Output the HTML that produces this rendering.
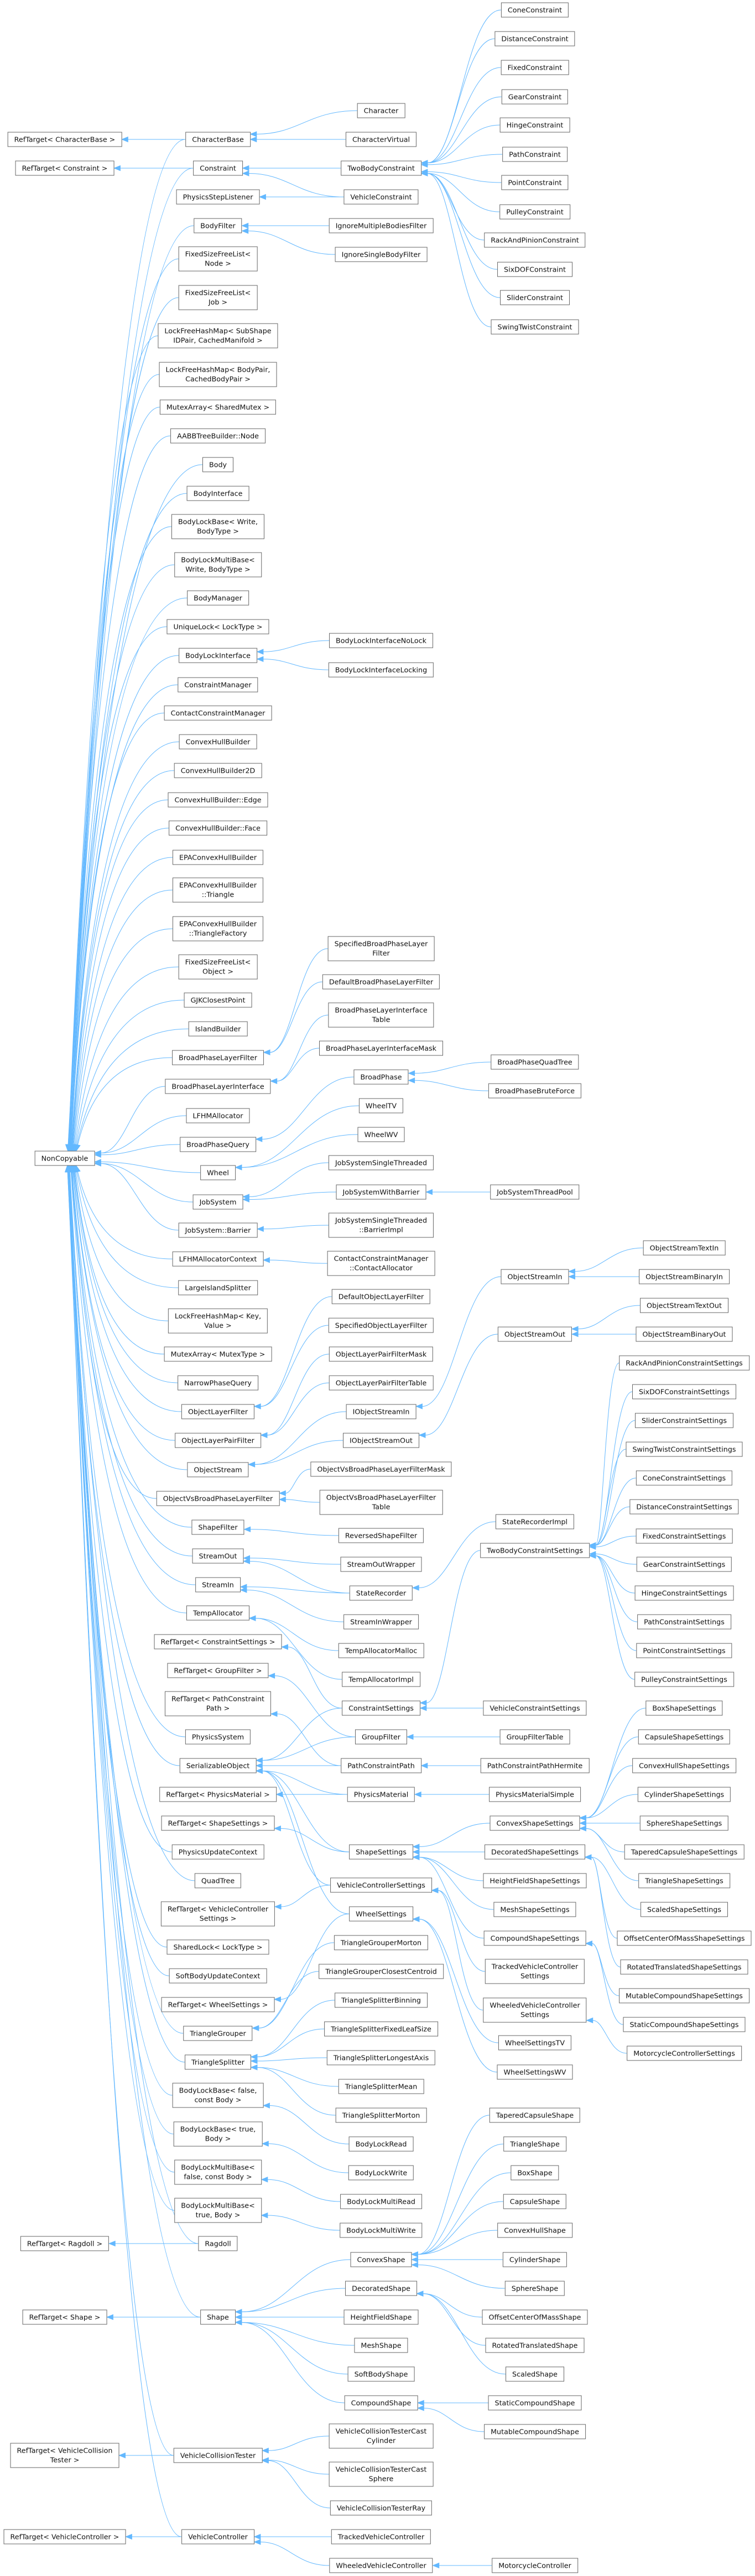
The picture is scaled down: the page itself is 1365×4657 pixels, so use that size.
<!DOCTYPE html>
<html><head><meta charset="utf-8">
<style>
html,body{margin:0;padding:0;background:#fff;}
body{width:1365px;height:4657px;position:relative;overflow:hidden;font-family:"DejaVu Sans","Liberation Sans",sans-serif;}
.n{position:absolute;transform:translate(-50%,-50%);background:#fff;border:1px solid #666;box-sizing:border-box;height:27px;padding:0 11px;font-size:12.7px;line-height:25px;white-space:pre;text-align:center;color:#111;z-index:2}
.n.t{height:45px;line-height:17px;padding-top:4px}
svg{position:absolute;left:0;top:0;z-index:1}
</style></head><body>
<svg id="sv" width="1365" height="4657"></svg>

<div class="n" id="rtcb" style="left:117px;top:252px">RefTarget&lt; CharacterBase &gt;</div>
<div class="n" id="rtc" style="left:117px;top:304px">RefTarget&lt; Constraint &gt;</div>
<div class="n" id="nc" style="left:117px;top:2094px">NonCopyable</div>
<div class="n" id="rtrd" style="left:117px;top:4056px">RefTarget&lt; Ragdoll &gt;</div>
<div class="n" id="rtsh" style="left:117px;top:4189px">RefTarget&lt; Shape &gt;</div>
<div class="n t" id="rtvct" style="left:117px;top:4439px">RefTarget&lt; VehicleCollision
Tester &gt;</div>
<div class="n" id="rtvc" style="left:117px;top:4586px">RefTarget&lt; VehicleController &gt;</div>

<div class="n" id="cb" style="left:394px;top:252px">CharacterBase</div>
<div class="n" id="con" style="left:394px;top:304px">Constraint</div>
<div class="n" id="psl" style="left:394px;top:356px">PhysicsStepListener</div>
<div class="n" id="bf" style="left:394px;top:408px">BodyFilter</div>
<div class="n t" id="fn" style="left:394px;top:468px">FixedSizeFreeList&lt;
Node &gt;</div>
<div class="n t" id="fj" style="left:394px;top:538px">FixedSizeFreeList&lt;
Job &gt;</div>
<div class="n t" id="lss" style="left:394px;top:607px">LockFreeHashMap&lt; SubShape
IDPair, CachedManifold &gt;</div>
<div class="n t" id="lbp" style="left:394px;top:677px">LockFreeHashMap&lt; BodyPair,
CachedBodyPair &gt;</div>
<div class="n" id="mas" style="left:394px;top:736px">MutexArray&lt; SharedMutex &gt;</div>
<div class="n" id="aabb" style="left:394px;top:788px">AABBTreeBuilder::Node</div>
<div class="n" id="body" style="left:394px;top:840px">Body</div>
<div class="n" id="bi" style="left:394px;top:892px">BodyInterface</div>
<div class="n t" id="blbw" style="left:394px;top:952px">BodyLockBase&lt; Write,
BodyType &gt;</div>
<div class="n t" id="blmbw" style="left:394px;top:1021px">BodyLockMultiBase&lt;
Write, BodyType &gt;</div>
<div class="n" id="bm" style="left:394px;top:1081px">BodyManager</div>
<div class="n" id="ul" style="left:394px;top:1133px">UniqueLock&lt; LockType &gt;</div>
<div class="n" id="bli" style="left:394px;top:1185px">BodyLockInterface</div>
<div class="n" id="cm" style="left:394px;top:1238px">ConstraintManager</div>
<div class="n" id="ccm" style="left:394px;top:1289px">ContactConstraintManager</div>
<div class="n" id="chb" style="left:394px;top:1341px">ConvexHullBuilder</div>
<div class="n" id="chb2" style="left:394px;top:1393px">ConvexHullBuilder2D</div>
<div class="n" id="chbe" style="left:394px;top:1446px">ConvexHullBuilder::Edge</div>
<div class="n" id="chbf" style="left:394px;top:1497px">ConvexHullBuilder::Face</div>
<div class="n" id="epa" style="left:394px;top:1550px">EPAConvexHullBuilder</div>
<div class="n t" id="epat" style="left:394px;top:1609px">EPAConvexHullBuilder
::Triangle</div>
<div class="n t" id="epatf" style="left:394px;top:1679px">EPAConvexHullBuilder
::TriangleFactory</div>
<div class="n t" id="fo" style="left:394px;top:1748px">FixedSizeFreeList&lt;
Object &gt;</div>
<div class="n" id="gjk" style="left:394px;top:1808px">GJKClosestPoint</div>
<div class="n" id="ib" style="left:394px;top:1860px">IslandBuilder</div>
<div class="n" id="bplf" style="left:394px;top:1912px">BroadPhaseLayerFilter</div>
<div class="n" id="bpli" style="left:394px;top:1964px">BroadPhaseLayerInterface</div>
<div class="n" id="lfa" style="left:394px;top:2017px">LFHMAllocator</div>
<div class="n" id="bpq" style="left:394px;top:2069px">BroadPhaseQuery</div>
<div class="n" id="wh" style="left:394px;top:2120px">Wheel</div>
<div class="n" id="js" style="left:394px;top:2173px">JobSystem</div>
<div class="n" id="jsb" style="left:394px;top:2224px">JobSystem::Barrier</div>
<div class="n" id="lfac" style="left:394px;top:2276px">LFHMAllocatorContext</div>
<div class="n" id="lis" style="left:394px;top:2328px">LargeIslandSplitter</div>
<div class="n t" id="lkv" style="left:394px;top:2388px">LockFreeHashMap&lt; Key,
Value &gt;</div>
<div class="n" id="mam" style="left:394px;top:2448px">MutexArray&lt; MutexType &gt;</div>
<div class="n" id="npq" style="left:394px;top:2500px">NarrowPhaseQuery</div>
<div class="n" id="olf" style="left:394px;top:2552px">ObjectLayerFilter</div>
<div class="n" id="olpf" style="left:394px;top:2604px">ObjectLayerPairFilter</div>
<div class="n" id="os" style="left:394px;top:2657px">ObjectStream</div>
<div class="n" id="ovb" style="left:394px;top:2709px">ObjectVsBroadPhaseLayerFilter</div>
<div class="n" id="sf" style="left:394px;top:2761px">ShapeFilter</div>
<div class="n" id="so" style="left:394px;top:2813px">StreamOut</div>
<div class="n" id="si" style="left:394px;top:2865px">StreamIn</div>
<div class="n" id="ta" style="left:394px;top:2916px">TempAllocator</div>
<div class="n" id="rtcs" style="left:394px;top:2968px">RefTarget&lt; ConstraintSettings &gt;</div>
<div class="n" id="rtgf" style="left:394px;top:3020px">RefTarget&lt; GroupFilter &gt;</div>
<div class="n t" id="rtpcp" style="left:394px;top:3080px">RefTarget&lt; PathConstraint
Path &gt;</div>
<div class="n" id="ps" style="left:394px;top:3140px">PhysicsSystem</div>
<div class="n" id="ser" style="left:394px;top:3192px">SerializableObject</div>
<div class="n" id="rtpm" style="left:394px;top:3244px">RefTarget&lt; PhysicsMaterial &gt;</div>
<div class="n" id="rtss" style="left:394px;top:3296px">RefTarget&lt; ShapeSettings &gt;</div>
<div class="n" id="puc" style="left:394px;top:3348px">PhysicsUpdateContext</div>
<div class="n" id="qt" style="left:394px;top:3400px">QuadTree</div>
<div class="n t" id="rtvcs" style="left:394px;top:3460px">RefTarget&lt; VehicleController
Settings &gt;</div>
<div class="n" id="sl" style="left:394px;top:3520px">SharedLock&lt; LockType &gt;</div>
<div class="n" id="sbuc" style="left:394px;top:3572px">SoftBodyUpdateContext</div>
<div class="n" id="rtws" style="left:394px;top:3624px">RefTarget&lt; WheelSettings &gt;</div>
<div class="n" id="tg" style="left:394px;top:3676px">TriangleGrouper</div>
<div class="n" id="ts" style="left:394px;top:3728px">TriangleSplitter</div>
<div class="n t" id="blbf" style="left:394px;top:3788px">BodyLockBase&lt; false,
const Body &gt;</div>
<div class="n t" id="blbt" style="left:394px;top:3858px">BodyLockBase&lt; true,
Body &gt;</div>
<div class="n t" id="blmf" style="left:394px;top:3927px">BodyLockMultiBase&lt;
false, const Body &gt;</div>
<div class="n t" id="blmt" style="left:394px;top:3996px">BodyLockMultiBase&lt;
true, Body &gt;</div>
<div class="n" id="rd" style="left:394px;top:4056px">Ragdoll</div>
<div class="n" id="sh" style="left:394px;top:4189px">Shape</div>
<div class="n" id="vct" style="left:394px;top:4439px">VehicleCollisionTester</div>
<div class="n" id="vc" style="left:394px;top:4586px">VehicleController</div>

<div class="n" id="ch" style="left:689px;top:200px">Character</div>
<div class="n" id="cv" style="left:689px;top:252px">CharacterVirtual</div>
<div class="n" id="tbc" style="left:689px;top:304px">TwoBodyConstraint</div>
<div class="n" id="vcn" style="left:689px;top:356px">VehicleConstraint</div>
<div class="n" id="imb" style="left:689px;top:408px">IgnoreMultipleBodiesFilter</div>
<div class="n" id="isb" style="left:689px;top:460px">IgnoreSingleBodyFilter</div>
<div class="n" id="blinl" style="left:689px;top:1158px">BodyLockInterfaceNoLock</div>
<div class="n" id="blil" style="left:689px;top:1211px">BodyLockInterfaceLocking</div>
<div class="n t" id="sbplf" style="left:689px;top:1715px">SpecifiedBroadPhaseLayer
Filter</div>
<div class="n" id="dbplf" style="left:689px;top:1775px">DefaultBroadPhaseLayerFilter</div>
<div class="n t" id="bplit" style="left:689px;top:1835px">BroadPhaseLayerInterface
Table</div>
<div class="n" id="bplim" style="left:689px;top:1895px">BroadPhaseLayerInterfaceMask</div>
<div class="n" id="bp" style="left:689px;top:1947px">BroadPhase</div>
<div class="n" id="wtv" style="left:689px;top:1999px">WheelTV</div>
<div class="n" id="wwv" style="left:689px;top:2051px">WheelWV</div>
<div class="n" id="jsst" style="left:689px;top:2102px">JobSystemSingleThreaded</div>
<div class="n" id="jswb" style="left:689px;top:2155px">JobSystemWithBarrier</div>
<div class="n t" id="jsbi" style="left:689px;top:2215px">JobSystemSingleThreaded
::BarrierImpl</div>
<div class="n t" id="cca" style="left:689px;top:2284px">ContactConstraintManager
::ContactAllocator</div>
<div class="n" id="dolf" style="left:689px;top:2344px">DefaultObjectLayerFilter</div>
<div class="n" id="solf" style="left:689px;top:2396px">SpecifiedObjectLayerFilter</div>
<div class="n" id="olpfm" style="left:689px;top:2448px">ObjectLayerPairFilterMask</div>
<div class="n" id="olpft" style="left:689px;top:2500px">ObjectLayerPairFilterTable</div>
<div class="n" id="iosi" style="left:689px;top:2552px">IObjectStreamIn</div>
<div class="n" id="ioso" style="left:689px;top:2604px">IObjectStreamOut</div>
<div class="n" id="ovbm" style="left:689px;top:2656px">ObjectVsBroadPhaseLayerFilterMask</div>
<div class="n t" id="ovbt" style="left:689px;top:2716px">ObjectVsBroadPhaseLayerFilter
Table</div>
<div class="n" id="rsf" style="left:689px;top:2776px">ReversedShapeFilter</div>
<div class="n" id="sow" style="left:689px;top:2828px">StreamOutWrapper</div>
<div class="n" id="sr" style="left:689px;top:2880px">StateRecorder</div>
<div class="n" id="siw" style="left:689px;top:2932px">StreamInWrapper</div>
<div class="n" id="tam" style="left:689px;top:2984px">TempAllocatorMalloc</div>
<div class="n" id="tai" style="left:689px;top:3036px">TempAllocatorImpl</div>
<div class="n" id="cs" style="left:689px;top:3088px">ConstraintSettings</div>
<div class="n" id="gf" style="left:689px;top:3140px">GroupFilter</div>
<div class="n" id="pcp" style="left:689px;top:3192px">PathConstraintPath</div>
<div class="n" id="pm" style="left:689px;top:3244px">PhysicsMaterial</div>
<div class="n" id="ss" style="left:689px;top:3348px">ShapeSettings</div>
<div class="n" id="vcs" style="left:689px;top:3408px">VehicleControllerSettings</div>
<div class="n" id="ws" style="left:689px;top:3460px">WheelSettings</div>
<div class="n" id="tgm" style="left:689px;top:3512px">TriangleGrouperMorton</div>
<div class="n" id="tgc" style="left:689px;top:3564px">TriangleGrouperClosestCentroid</div>
<div class="n" id="tsb" style="left:689px;top:3616px">TriangleSplitterBinning</div>
<div class="n" id="tsf" style="left:689px;top:3668px">TriangleSplitterFixedLeafSize</div>
<div class="n" id="tsl" style="left:689px;top:3720px">TriangleSplitterLongestAxis</div>
<div class="n" id="tsm" style="left:689px;top:3772px">TriangleSplitterMean</div>
<div class="n" id="tsmo" style="left:689px;top:3824px">TriangleSplitterMorton</div>
<div class="n" id="blr" style="left:689px;top:3876px">BodyLockRead</div>
<div class="n" id="blw" style="left:689px;top:3928px">BodyLockWrite</div>
<div class="n" id="blmr" style="left:689px;top:3980px">BodyLockMultiRead</div>
<div class="n" id="blmw" style="left:689px;top:4032px">BodyLockMultiWrite</div>
<div class="n" id="cvs" style="left:689px;top:4085px">ConvexShape</div>
<div class="n" id="ds" style="left:689px;top:4137px">DecoratedShape</div>
<div class="n" id="hfs" style="left:689px;top:4189px">HeightFieldShape</div>
<div class="n" id="ms" style="left:689px;top:4240px">MeshShape</div>
<div class="n" id="sbs" style="left:689px;top:4292px">SoftBodyShape</div>
<div class="n" id="cps" style="left:689px;top:4344px">CompoundShape</div>
<div class="n t" id="vctc" style="left:689px;top:4404px">VehicleCollisionTesterCast
Cylinder</div>
<div class="n t" id="vcts" style="left:689px;top:4473px">VehicleCollisionTesterCast
Sphere</div>
<div class="n" id="vctr" style="left:689px;top:4534px">VehicleCollisionTesterRay</div>
<div class="n" id="tvc" style="left:689px;top:4586px">TrackedVehicleController</div>
<div class="n" id="wvc" style="left:689px;top:4638px">WheeledVehicleController</div>

<div class="n" id="k0" style="left:967px;top:18px">ConeConstraint</div>
<div class="n" id="k1" style="left:967px;top:70px">DistanceConstraint</div>
<div class="n" id="k2" style="left:967px;top:122px">FixedConstraint</div>
<div class="n" id="k3" style="left:967px;top:175px">GearConstraint</div>
<div class="n" id="k4" style="left:967px;top:226px">HingeConstraint</div>
<div class="n" id="k5" style="left:967px;top:279px">PathConstraint</div>
<div class="n" id="k6" style="left:967px;top:330px">PointConstraint</div>
<div class="n" id="k7" style="left:967px;top:383px">PulleyConstraint</div>
<div class="n" id="k8" style="left:967px;top:434px">RackAndPinionConstraint</div>
<div class="n" id="k9" style="left:967px;top:487px">SixDOFConstraint</div>
<div class="n" id="k10" style="left:967px;top:538px">SliderConstraint</div>
<div class="n" id="k11" style="left:967px;top:591px">SwingTwistConstraint</div>
<div class="n" id="bpqt" style="left:967px;top:1920px">BroadPhaseQuadTree</div>
<div class="n" id="bpbf" style="left:967px;top:1972px">BroadPhaseBruteForce</div>
<div class="n" id="jstp" style="left:967px;top:2155px">JobSystemThreadPool</div>
<div class="n" id="osi" style="left:967px;top:2308px">ObjectStreamIn</div>
<div class="n" id="oso" style="left:967px;top:2412px">ObjectStreamOut</div>
<div class="n" id="sri" style="left:967px;top:2751px">StateRecorderImpl</div>
<div class="n" id="tbcs" style="left:967px;top:2803px">TwoBodyConstraintSettings</div>
<div class="n" id="vcns" style="left:967px;top:3088px">VehicleConstraintSettings</div>
<div class="n" id="gft" style="left:967px;top:3140px">GroupFilterTable</div>
<div class="n" id="pcph" style="left:967px;top:3192px">PathConstraintPathHermite</div>
<div class="n" id="pms" style="left:967px;top:3244px">PhysicsMaterialSimple</div>
<div class="n" id="css" style="left:967px;top:3296px">ConvexShapeSettings</div>
<div class="n" id="dss" style="left:967px;top:3348px">DecoratedShapeSettings</div>
<div class="n" id="hfss" style="left:967px;top:3400px">HeightFieldShapeSettings</div>
<div class="n" id="mss" style="left:967px;top:3452px">MeshShapeSettings</div>
<div class="n" id="cpss" style="left:967px;top:3504px">CompoundShapeSettings</div>
<div class="n t" id="tvcs" style="left:967px;top:3564px">TrackedVehicleController
Settings</div>
<div class="n t" id="wvcs" style="left:967px;top:3634px">WheeledVehicleController
Settings</div>
<div class="n" id="wstv" style="left:967px;top:3693px">WheelSettingsTV</div>
<div class="n" id="wswv" style="left:967px;top:3746px">WheelSettingsWV</div>
<div class="n" id="tcs" style="left:967px;top:3824px">TaperedCapsuleShape</div>
<div class="n" id="trs" style="left:967px;top:3876px">TriangleShape</div>
<div class="n" id="bxs" style="left:967px;top:3928px">BoxShape</div>
<div class="n" id="cas" style="left:967px;top:3980px">CapsuleShape</div>
<div class="n" id="chs" style="left:967px;top:4032px">ConvexHullShape</div>
<div class="n" id="cys" style="left:967px;top:4085px">CylinderShape</div>
<div class="n" id="sps" style="left:967px;top:4137px">SphereShape</div>
<div class="n" id="ocm" style="left:967px;top:4189px">OffsetCenterOfMassShape</div>
<div class="n" id="rts" style="left:967px;top:4240px">RotatedTranslatedShape</div>
<div class="n" id="scs" style="left:967px;top:4292px">ScaledShape</div>
<div class="n" id="scps" style="left:967px;top:4344px">StaticCompoundShape</div>
<div class="n" id="mcps" style="left:967px;top:4396px">MutableCompoundShape</div>
<div class="n" id="mc" style="left:967px;top:4638px">MotorcycleController</div>

<div class="n" id="ostin" style="left:1237px;top:2256px">ObjectStreamTextIn</div>
<div class="n" id="osbin" style="left:1237px;top:2308px">ObjectStreamBinaryIn</div>
<div class="n" id="osto" style="left:1237px;top:2360px">ObjectStreamTextOut</div>
<div class="n" id="osbo" style="left:1237px;top:2412px">ObjectStreamBinaryOut</div>
<div class="n" id="q0" style="left:1237px;top:2464px">RackAndPinionConstraintSettings</div>
<div class="n" id="q1" style="left:1237px;top:2516px">SixDOFConstraintSettings</div>
<div class="n" id="q2" style="left:1237px;top:2568px">SliderConstraintSettings</div>
<div class="n" id="q3" style="left:1237px;top:2620px">SwingTwistConstraintSettings</div>
<div class="n" id="q4" style="left:1237px;top:2672px">ConeConstraintSettings</div>
<div class="n" id="q5" style="left:1237px;top:2724px">DistanceConstraintSettings</div>
<div class="n" id="q6" style="left:1237px;top:2777px">FixedConstraintSettings</div>
<div class="n" id="q7" style="left:1237px;top:2828px">GearConstraintSettings</div>
<div class="n" id="q8" style="left:1237px;top:2880px">HingeConstraintSettings</div>
<div class="n" id="q9" style="left:1237px;top:2932px">PathConstraintSettings</div>
<div class="n" id="q10" style="left:1237px;top:2984px">PointConstraintSettings</div>
<div class="n" id="q11" style="left:1237px;top:3036px">PulleyConstraintSettings</div>
<div class="n" id="z0" style="left:1237px;top:3088px">BoxShapeSettings</div>
<div class="n" id="z1" style="left:1237px;top:3140px">CapsuleShapeSettings</div>
<div class="n" id="z2" style="left:1237px;top:3192px">ConvexHullShapeSettings</div>
<div class="n" id="z3" style="left:1237px;top:3244px">CylinderShapeSettings</div>
<div class="n" id="z4" style="left:1237px;top:3296px">SphereShapeSettings</div>
<div class="n" id="z5" style="left:1237px;top:3348px">TaperedCapsuleShapeSettings</div>
<div class="n" id="z6" style="left:1237px;top:3400px">TriangleShapeSettings</div>
<div class="n" id="z7" style="left:1237px;top:3452px">ScaledShapeSettings</div>
<div class="n" id="z8" style="left:1237px;top:3504px">OffsetCenterOfMassShapeSettings</div>
<div class="n" id="z9" style="left:1237px;top:3556px">RotatedTranslatedShapeSettings</div>
<div class="n" id="z10" style="left:1237px;top:3608px">MutableCompoundShapeSettings</div>
<div class="n" id="z11" style="left:1237px;top:3660px">StaticCompoundShapeSettings</div>
<div class="n" id="mcs" style="left:1237px;top:3712px">MotorcycleControllerSettings</div>

<script>
(function(){
var E=[];
function e(p,cs){cs.split(' ').forEach(function(c){E.push([c,p]);});}
e('nc','cb con bf fn fj lss lbp mas aabb body bi blbw blmbw bm ul bli cm ccm chb chb2 chbe chbf epa epat epatf fo gjk ib bplf bpli lfa bpq wh js jsb lfac lis lkv mam npq olf olpf os ovb sf so si ta ps ser puc qt sl sbuc tg ts blbf blbt blmf blmt rd sh vct vc');
e('rtcb','cb');e('rtc','con');e('rtrd','rd');e('rtsh','sh');e('rtvct','vct');e('rtvc','vc');
e('cb','ch cv');e('con','tbc vcn');e('psl','vcn');
e('tbc','k0 k1 k2 k3 k4 k5 k6 k7 k8 k9 k10 k11');
e('bf','imb isb');e('bli','blinl blil');e('bplf','sbplf dbplf');e('bpli','bplit bplim');
e('bpq','bp');e('wh','wtv wwv');e('js','jsst jswb');e('jsb','jsbi');e('lfac','cca');
e('olf','dolf solf');e('olpf','olpfm olpft');e('os','iosi ioso');e('ovb','ovbm ovbt');
e('sf','rsf');e('so','sow sr');e('si','sr siw');e('ta','tam tai');
e('rtcs','cs');e('rtgf','gf');e('rtpcp','pcp');e('rtpm','pm');e('rtss','ss');e('rtvcs','vcs');e('rtws','ws');
e('ser','cs gf pcp pm ss vcs ws');
e('tg','tgm tgc');e('ts','tsb tsf tsl tsm tsmo');
e('blbf','blr');e('blbt','blw');e('blmf','blmr');e('blmt','blmw');
e('sh','cvs ds hfs ms sbs cps');e('vct','vctc vcts vctr');e('vc','tvc wvc');
e('bp','bpqt bpbf');e('jswb','jstp');e('iosi','osi');e('ioso','oso');e('sr','sri');
e('cs','tbcs vcns');e('gf','gft');e('pcp','pcph');e('pm','pms');
e('ss','css dss hfss mss cpss');e('vcs','tvcs wvcs');e('ws','wstv wswv');
e('cvs','tcs trs bxs cas chs cys sps');e('ds','ocm rts scs');e('cps','scps mcps');e('wvc','mc');
e('osi','ostin osbin');e('oso','osto osbo');
e('tbcs','q0 q1 q2 q3 q4 q5 q6 q7 q8 q9 q10 q11');
e('css','z0 z1 z2 z3 z4 z5 z6');e('dss','z7 z8 z9');e('cpss','z10 z11');e('wvcs','mcs');
function R(id){var r=document.getElementById(id).getBoundingClientRect();return {l:r.left,r:r.right,t:r.top,b:r.bottom,x:(r.left+r.right)/2,y:(r.top+r.bottom)/2,h:r.height};}
var out='';
E.forEach(function(ed){
  var c=R(ed[0]),p=R(ed[1]);
  var x1=c.l,y1=c.y,ex,ey,c1x,c1y,c2x,c2y;
  var dy=c.y-p.y;
  if(ed[1]=='nc' && Math.abs(dy)>140){
    var s=dy<0?-1:1;
    ex=p.x+4+22*Math.exp(-Math.abs(dy)/700);
    ey=s<0?p.t:p.b;
    var ady=Math.abs(dy);
    c1x=x1-(x1-ex)*0.55;c1y=y1;
    c2x=ex+ (x1-ex)*0.15; c2y=ey+s*Math.min(ady*0.6,600);
  } else {
    var off=dy*0.25,lim=p.h/2-4;
    if(off>lim)off=lim;if(off<-lim)off=-lim;
    ex=p.r;ey=p.y+off;
    var dx=x1-ex;
    c1x=x1-dx*0.45;c1y=y1;c2x=ex+dx*0.45;c2y=ey;
  }
  var vx=ex-c2x,vy=ey-c2y,L=Math.sqrt(vx*vx+vy*vy)||1;vx/=L;vy/=L;
  var bx=ex-vx*11,by=ey-vy*11;
  var c2xa=c2x, c2ya=c2y;
  out+='<path d="M'+x1.toFixed(1)+' '+y1.toFixed(1)+' C'+c1x.toFixed(1)+' '+c1y.toFixed(1)+' '+c2xa.toFixed(1)+' '+c2ya.toFixed(1)+' '+bx.toFixed(1)+' '+by.toFixed(1)+'" fill="none" stroke="#63b8ff" stroke-width="1"/>';
  var nx=-vy,ny=vx;
  out+='<polygon points="'+ex.toFixed(1)+','+ey.toFixed(1)+' '+(bx+nx*4.5).toFixed(1)+','+(by+ny*4.5).toFixed(1)+' '+(bx-nx*4.5).toFixed(1)+','+(by-ny*4.5).toFixed(1)+'" fill="#63b8ff" stroke="#63b8ff"/>';
});
document.getElementById('sv').innerHTML=out;
})();
</script>
</body></html>
